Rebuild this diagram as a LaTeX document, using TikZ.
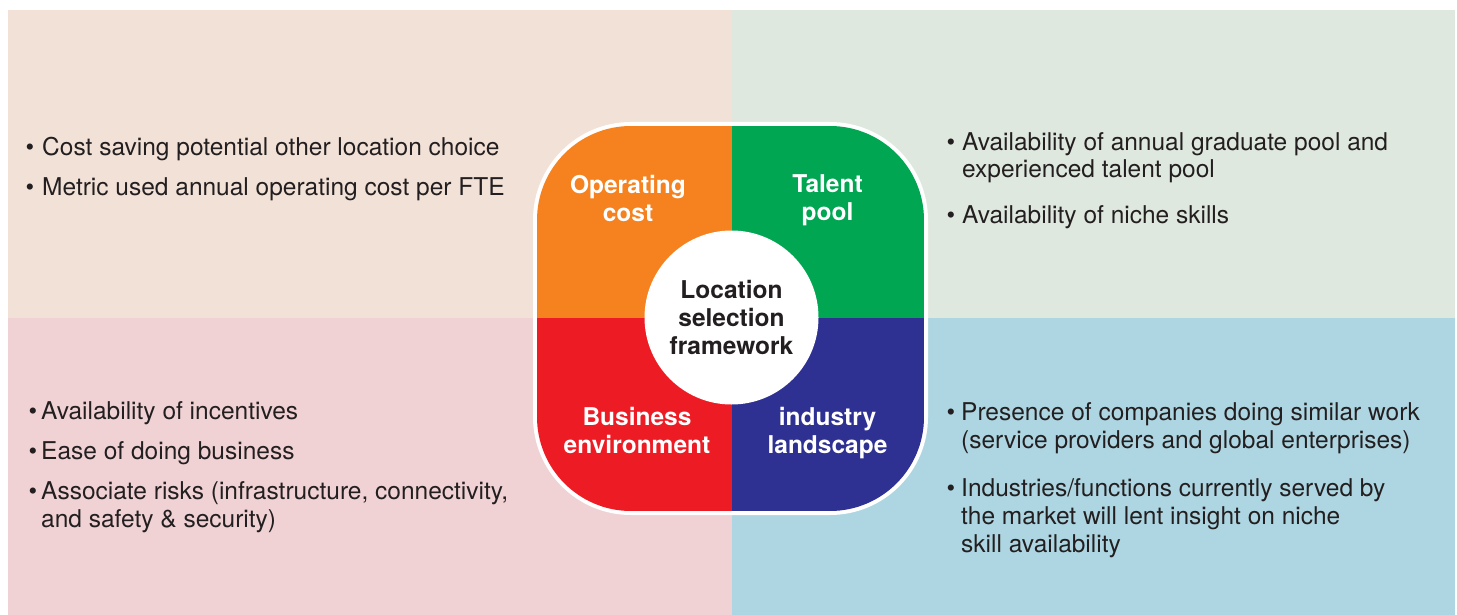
\documentclass[tikz,border=0pt]{standalone}
\usepackage{fontspec}
\setmainfont{TeX Gyre Heros}

\definecolor{ink}{HTML}{231F20}
\definecolor{bgcost}{HTML}{F2E1D7}
\definecolor{bgtalent}{HTML}{DEE8DE}
\definecolor{bgbiz}{HTML}{F0D2D4}
\definecolor{bgind}{HTML}{ADD6E2}
\definecolor{costc}{HTML}{F5821F}
\definecolor{talentc}{HTML}{00A651}
\definecolor{bizc}{HTML}{ED1C24}
\definecolor{indc}{HTML}{2E3192}

\begin{document}
\begin{tikzpicture}[x=1pt,y=-1pt,
	item/.style={anchor=base west,align=left,inner sep=0,text=ink,font=\fontsize{24.5}{28}\selectfont},
	dot/.style={anchor=base,inner sep=0,text=ink,font=\fontsize{24.5}{28}\selectfont},
	head/.style={anchor=base,align=center,inner sep=0,text=white,font=\fontsize{24.5}{28}\selectfont\bfseries}]
	
	\useasboundingbox (0,0) rectangle (1457,615);
	\fill[white] (0,0) rectangle (1457,615);
	
	% four background panels
	\fill[bgcost] (8,10) rectangle (732,317.5);
	\fill[bgtalent] (732,10) rectangle (1455,317.5);
	\fill[bgbiz] (8,317.5) rectangle (732,615);
	\fill[bgind] (732,317.5) rectangle (1455,615);
	
	% rounded square in the middle
	\fill[white,rounded corners=98] (533,122) rectangle (928,515);
	\begin{scope}
		\clip[rounded corners=94] (537,126) rectangle (924,511);
		\fill[costc] (537,126) rectangle (731.5,317.5);
		\fill[talentc] (731.5,126) rectangle (924,317.5);
		\fill[bizc] (537,317.5) rectangle (731.5,511);
		\fill[indc] (731.5,317.5) rectangle (924,511);
	\end{scope}
	
	\node[circle,fill=white,minimum size=174,inner sep=0,align=center,text=ink,
		font=\fontsize{24.5}{28}\selectfont\bfseries] (hub) at (731.5,317.5) {Location\\selection\\framework};
	
	% base = last line
	\node[head] (cost) at (628,221.5) {Operating\\cost};
	\node[head] (talent) at (827.5,220) {Talent\\pool};
	\node[head] (biz) at (637,453) {Business\\environment};
	\node[head] (ind) at (827.5,453) {industry\\landscape};
	
	% top left
	\node[item] (tl1) at (42,156) {Cost saving potential other location choice};
	\node[item] (tl2) at (42,195) {Metric used annual operating cost per FTE};
	\node[dot] (tl1b) at (30,156) {\textbullet};
	\node[dot] (tl2b) at (30,195) {\textbullet};
	
	% top right
	\node[item] (tr1) at (962,178) {Availability of annual graduate pool and\\experienced talent pool};
	\node[item] (tr2) at (962,223) {Availability of niche skills};
	\node[dot] (tr1b) at (951,150) {\textbullet};
	\node[dot] (tr2b) at (951,223) {\textbullet};
	
	% bottom left
	\node[item] (bl1) at (41,419) {Availability of incentives};
	\node[item] (bl2) at (41,459) {Ease of doing business};
	\node[item] (bl3) at (41,527) {Associate risks (infrastructure, connectivity,\\and safety \& security)};
	\node[dot] (bl1b) at (33,419) {\textbullet};
	\node[dot] (bl2b) at (33,459) {\textbullet};
	\node[dot] (bl3b) at (33,499) {\textbullet};
	
	% bottom right
	\node[item] (br1) at (961,448) {Presence of companies doing similar work\\(service providers and global enterprises)};
	\node[item] (br2) at (961,552) {Industries/functions currently served by\\the market will lent insight on niche\\skill availability};
	\node[dot] (br1b) at (951,420) {\textbullet};
	\node[dot] (br2b) at (951,496) {\textbullet};
\end{tikzpicture}
\end{document}
